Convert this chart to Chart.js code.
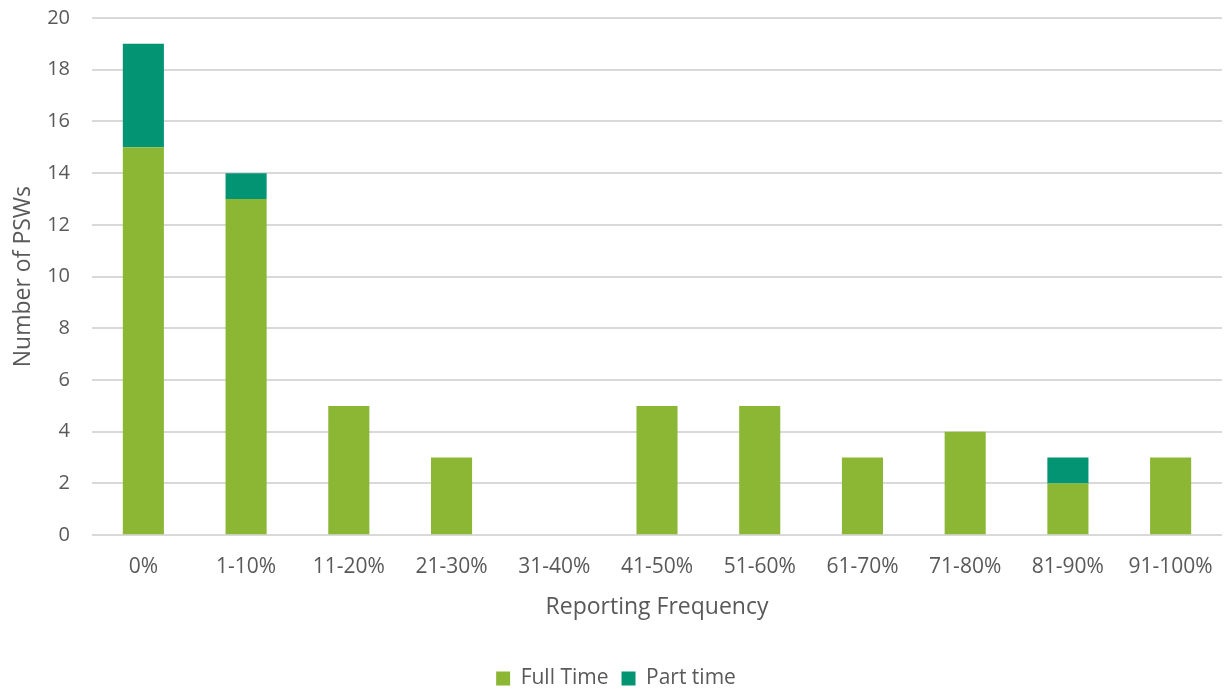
<!DOCTYPE html>
<html>
<head>
<meta charset="utf-8">
<script src="https://cdn.jsdelivr.net/npm/chart.js@4/dist/chart.umd.min.js"></script>
<style>
html,body{margin:0;padding:0;background:#fff;}
#wrap{width:1224px;height:690px;position:relative;}
</style>
</head>
<body>
<div id="wrap"><canvas id="c" width="1224" height="690"></canvas></div>
<script>
const categories = ["0%","1-10%","11-20%","21-30%","31-40%","41-50%","51-60%","61-70%","71-80%","81-90%","91-100%"];
const fullTime = [15,13,5,3,0,5,5,3,4,2,3];
const partTime = [4,1,0,0,0,0,0,0,0,1,0];
const yTicks = [0,2,4,6,8,10,12,14,16,18,20];

const textColor = '#595959';
const fontFamily = '"Open Sans", "Liberation Sans", sans-serif';

new Chart(document.getElementById('c'), {
  type: 'bar',
  data: {
    labels: categories,
    datasets: [
      {label: 'Full Time', data: fullTime, backgroundColor: '#8BB734', borderWidth: 0},
      {label: 'Part time', data: partTime, backgroundColor: '#039474', borderWidth: 0}
    ]
  },
  options: {
    responsive: false,
    animation: false,
    layout: {padding: {left: 10, right: 2, top: 18, bottom: -9}},
    datasets: {bar: {categoryPercentage: 1.0, barPercentage: 0.4}},
    plugins: {
      legend: {
        position: 'bottom',
        labels: {color: textColor, font: {family: fontFamily, size: 21}, boxWidth: 14, boxHeight: 14, padding: 13, useBorderRadius: false}
      },
      tooltip: {enabled: false}
    },
    scales: {
      x: {
        stacked: true,
        afterFit: (s) => { s.paddingLeft = 0; s.paddingRight = 0; },
        grid: {display: false, drawTicks: false},
        border: {display: false},
        ticks: {color: textColor, font: {family: fontFamily, size: 21}, padding: 19, maxRotation: 0},
        title: {display: true, text: 'Reporting Frequency', color: textColor, font: {family: fontFamily, size: 23}, padding: {top: -5, bottom: 34}}
      },
      y: {
        stacked: true,
        min: 0, max: 20,
        afterBuildTicks: (s) => { s.ticks = yTicks.map(v => ({value: v})); },
        afterFit: (s) => { s.width = 82; s.paddingTop = 0; s.paddingBottom = 0; },
        grid: {color: '#d9d9d9', lineWidth: 2, drawTicks: false},
        border: {display: false},
        ticks: {color: textColor, font: {family: fontFamily, size: 20}, padding: 22},
        title: {display: true, text: 'Number of PSWs', color: textColor, font: {family: fontFamily, size: 23}, padding: {top: 0, bottom: 0}}
      }
    }
  }
});
</script>
</body>
</html>
